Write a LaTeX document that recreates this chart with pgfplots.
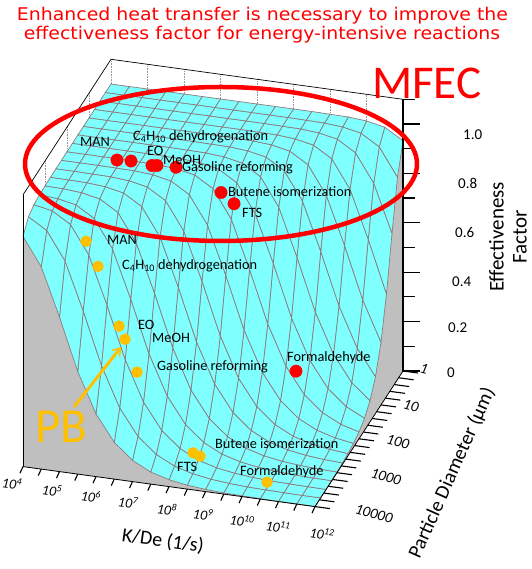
\documentclass[border=0pt]{standalone}
\usepackage{graphicx}
\usepackage{pgfplots}
\pgfplotsset{compat=1.18}
\usepackage{fontspec}
\setmainfont{Carlito}
\newfontfamily\titlefont{DejaVu Sans}
\usetikzlibrary{arrows.meta}
\definecolor{meshcol}{RGB}{140,122,126}
\definecolor{wallgray}{RGB}{191,191,191}
\definecolor{pborange}{RGB}{255,192,0}
\definecolor{mfecred}{RGB}{255,0,0}
\definecolor{dotgray}{RGB}{150,150,150}
\begin{document}
\begin{tikzpicture}[x=1pt,y=1pt]
\begin{axis}[
  at={(111pt,238pt)}, anchor=origin,
  x={(36.5pt,-5pt)}, y={(-22pt,-33.9pt)}, z={(0pt,247pt)},
  xmin=0, xmax=8, ymin=0, ymax=4, zmin=0, zmax=1.1,
  hide axis, clip=false,
  colormap={flatcyan}{rgb255=(128,255,255) rgb255=(128,255,255)},
]
% dotted grid lines on back and left walls
\draw[dotgray, densely dotted, line width=0.6pt] (axis cs:0,0,1) -- (axis cs:0,0,1.1);
\draw[dotgray, densely dotted, line width=0.6pt] (axis cs:1,0,1) -- (axis cs:1,0,1.1);
\draw[dotgray, densely dotted, line width=0.6pt] (axis cs:2,0,1) -- (axis cs:2,0,1.1);
\draw[dotgray, densely dotted, line width=0.6pt] (axis cs:3,0,1) -- (axis cs:3,0,1.1);
\draw[dotgray, densely dotted, line width=0.6pt] (axis cs:4,0,1) -- (axis cs:4,0,1.1);
\draw[dotgray, densely dotted, line width=0.6pt] (axis cs:5,0,1) -- (axis cs:5,0,1.1);
\draw[dotgray, densely dotted, line width=0.6pt] (axis cs:6,0,0.999) -- (axis cs:6,0,1.1);
\draw[dotgray, densely dotted, line width=0.6pt] (axis cs:7,0,0.992) -- (axis cs:7,0,1.1);
\draw[dotgray, densely dotted, line width=0.6pt] (axis cs:0,1,1) -- (axis cs:0,1,1.1);
\draw[dotgray, densely dotted, line width=0.6pt] (axis cs:0,2,1) -- (axis cs:0,2,1.1);
\draw[dotgray, densely dotted, line width=0.6pt] (axis cs:0,3,0.999) -- (axis cs:0,3,1.1);
% box edges
\draw[black, line width=0.7pt] (axis cs:0,4,1.1) -- (axis cs:0,0,1.1) -- (axis cs:8,0,1.1);
% gray walls (front: d = 10000 um, right: K/De = 1e12)
\addplot3[fill=wallgray, draw=none] coordinates {(0,4,0.932) (0.5,4,0.819) (1,4,0.626) (1.5,4,0.415) (2,4,0.254) (2.5,4,0.149) (3,4,0.086) (3.5,4,0.049) (4,4,0.028) (4.5,4,0.016) (5,4,0.009) (5.5,4,0.005) (6,4,0.003) (6.5,4,0.002) (7,4,0.001) (7.5,4,0.001) (8,4,0) (0,4,0)};
\addplot3[fill=wallgray, draw=none] coordinates {(8,0,0.932) (8,0.25,0.819) (8,0.5,0.626) (8,0.75,0.415) (8,1,0.254) (8,1.25,0.149) (8,1.5,0.086) (8,1.75,0.049) (8,2,0.028) (8,2.25,0.016) (8,2.5,0.009) (8,2.75,0.005) (8,3,0.003) (8,3.25,0.002) (8,3.5,0.001) (8,3.75,0.001) (8,4,0) (8,0,0)};
% surface: x = log10(K/De)-4, y = log10(d/um), z = effectiveness factor
\addplot3[surf, shader=faceted, faceted color=meshcol, line width=0.7pt, mesh/cols=17] table[row sep=\\] {
x y z\\
0 0 1\\0.5 0 1\\1 0 1\\1.5 0 1\\2 0 1\\2.5 0 1\\3 0 1\\3.5 0 1\\4 0 1\\4.5 0 1\\5 0 1\\5.5 0 1\\6 0 0.999\\6.5 0 0.998\\7 0 0.992\\7.5 0 0.977\\8 0 0.932\\
0 0.25 1\\0.5 0.25 1\\1 0.25 1\\1.5 0.25 1\\2 0.25 1\\2.5 0.25 1\\3 0.25 1\\3.5 0.25 1\\4 0.25 1\\4.5 0.25 1\\5 0.25 1\\5.5 0.25 0.999\\6 0.25 0.998\\6.5 0.25 0.992\\7 0.25 0.977\\7.5 0.25 0.932\\8 0.25 0.819\\
0 0.5 1\\0.5 0.5 1\\1 0.5 1\\1.5 0.5 1\\2 0.5 1\\2.5 0.5 1\\3 0.5 1\\3.5 0.5 1\\4 0.5 1\\4.5 0.5 1\\5 0.5 0.999\\5.5 0.5 0.998\\6 0.5 0.992\\6.5 0.5 0.977\\7 0.5 0.932\\7.5 0.5 0.819\\8 0.5 0.626\\
0 0.75 1\\0.5 0.75 1\\1 0.75 1\\1.5 0.75 1\\2 0.75 1\\2.5 0.75 1\\3 0.75 1\\3.5 0.75 1\\4 0.75 1\\4.5 0.75 0.999\\5 0.75 0.998\\5.5 0.75 0.992\\6 0.75 0.977\\6.5 0.75 0.932\\7 0.75 0.819\\7.5 0.75 0.626\\8 0.75 0.415\\
0 1 1\\0.5 1 1\\1 1 1\\1.5 1 1\\2 1 1\\2.5 1 1\\3 1 1\\3.5 1 1\\4 1 0.999\\4.5 1 0.998\\5 1 0.992\\5.5 1 0.977\\6 1 0.932\\6.5 1 0.819\\7 1 0.626\\7.5 1 0.415\\8 1 0.254\\
0 1.25 1\\0.5 1.25 1\\1 1.25 1\\1.5 1.25 1\\2 1.25 1\\2.5 1.25 1\\3 1.25 1\\3.5 1.25 0.999\\4 1.25 0.998\\4.5 1.25 0.992\\5 1.25 0.977\\5.5 1.25 0.932\\6 1.25 0.819\\6.5 1.25 0.626\\7 1.25 0.415\\7.5 1.25 0.254\\8 1.25 0.149\\
0 1.5 1\\0.5 1.5 1\\1 1.5 1\\1.5 1.5 1\\2 1.5 1\\2.5 1.5 1\\3 1.5 0.999\\3.5 1.5 0.998\\4 1.5 0.992\\4.5 1.5 0.977\\5 1.5 0.932\\5.5 1.5 0.819\\6 1.5 0.626\\6.5 1.5 0.415\\7 1.5 0.254\\7.5 1.5 0.149\\8 1.5 0.086\\
0 1.75 1\\0.5 1.75 1\\1 1.75 1\\1.5 1.75 1\\2 1.75 1\\2.5 1.75 0.999\\3 1.75 0.998\\3.5 1.75 0.992\\4 1.75 0.977\\4.5 1.75 0.932\\5 1.75 0.819\\5.5 1.75 0.626\\6 1.75 0.415\\6.5 1.75 0.254\\7 1.75 0.149\\7.5 1.75 0.086\\8 1.75 0.049\\
0 2 1\\0.5 2 1\\1 2 1\\1.5 2 1\\2 2 0.999\\2.5 2 0.998\\3 2 0.992\\3.5 2 0.977\\4 2 0.932\\4.5 2 0.819\\5 2 0.626\\5.5 2 0.415\\6 2 0.254\\6.5 2 0.149\\7 2 0.086\\7.5 2 0.049\\8 2 0.028\\
0 2.25 1\\0.5 2.25 1\\1 2.25 1\\1.5 2.25 0.999\\2 2.25 0.998\\2.5 2.25 0.992\\3 2.25 0.977\\3.5 2.25 0.932\\4 2.25 0.819\\4.5 2.25 0.626\\5 2.25 0.415\\5.5 2.25 0.254\\6 2.25 0.149\\6.5 2.25 0.086\\7 2.25 0.049\\7.5 2.25 0.028\\8 2.25 0.016\\
0 2.5 1\\0.5 2.5 1\\1 2.5 0.999\\1.5 2.5 0.998\\2 2.5 0.992\\2.5 2.5 0.977\\3 2.5 0.932\\3.5 2.5 0.819\\4 2.5 0.626\\4.5 2.5 0.415\\5 2.5 0.254\\5.5 2.5 0.149\\6 2.5 0.086\\6.5 2.5 0.049\\7 2.5 0.028\\7.5 2.5 0.016\\8 2.5 0.009\\
0 2.75 1\\0.5 2.75 0.999\\1 2.75 0.998\\1.5 2.75 0.992\\2 2.75 0.977\\2.5 2.75 0.932\\3 2.75 0.819\\3.5 2.75 0.626\\4 2.75 0.415\\4.5 2.75 0.254\\5 2.75 0.149\\5.5 2.75 0.086\\6 2.75 0.049\\6.5 2.75 0.028\\7 2.75 0.016\\7.5 2.75 0.009\\8 2.75 0.005\\
0 3 0.999\\0.5 3 0.998\\1 3 0.992\\1.5 3 0.977\\2 3 0.932\\2.5 3 0.819\\3 3 0.626\\3.5 3 0.415\\4 3 0.254\\4.5 3 0.149\\5 3 0.086\\5.5 3 0.049\\6 3 0.028\\6.5 3 0.016\\7 3 0.009\\7.5 3 0.005\\8 3 0.003\\
0 3.25 0.998\\0.5 3.25 0.992\\1 3.25 0.977\\1.5 3.25 0.932\\2 3.25 0.819\\2.5 3.25 0.626\\3 3.25 0.415\\3.5 3.25 0.254\\4 3.25 0.149\\4.5 3.25 0.086\\5 3.25 0.049\\5.5 3.25 0.028\\6 3.25 0.016\\6.5 3.25 0.009\\7 3.25 0.005\\7.5 3.25 0.003\\8 3.25 0.002\\
0 3.5 0.992\\0.5 3.5 0.977\\1 3.5 0.932\\1.5 3.5 0.819\\2 3.5 0.626\\2.5 3.5 0.415\\3 3.5 0.254\\3.5 3.5 0.149\\4 3.5 0.086\\4.5 3.5 0.049\\5 3.5 0.028\\5.5 3.5 0.016\\6 3.5 0.009\\6.5 3.5 0.005\\7 3.5 0.003\\7.5 3.5 0.002\\8 3.5 0.001\\
0 3.75 0.977\\0.5 3.75 0.932\\1 3.75 0.819\\1.5 3.75 0.626\\2 3.75 0.415\\2.5 3.75 0.254\\3 3.75 0.149\\3.5 3.75 0.086\\4 3.75 0.049\\4.5 3.75 0.028\\5 3.75 0.016\\5.5 3.75 0.009\\6 3.75 0.005\\6.5 3.75 0.003\\7 3.75 0.002\\7.5 3.75 0.001\\8 3.75 0.001\\
0 4 0.932\\0.5 4 0.819\\1 4 0.626\\1.5 4 0.415\\2 4 0.254\\2.5 4 0.149\\3 4 0.086\\3.5 4 0.049\\4 4 0.028\\4.5 4 0.016\\5 4 0.009\\5.5 4 0.005\\6 4 0.003\\6.5 4 0.002\\7 4 0.001\\7.5 4 0.001\\8 4 0\\
};
% axis lines
\draw[black, line width=0.7pt] (axis cs:0,4,0) -- (axis cs:0,4,1.1);
\draw[black, line width=0.8pt] (axis cs:0,4,0) -- (axis cs:8,4,0) -- (axis cs:8,0,0);
\draw[black, line width=1.3pt] (axis cs:8,0,0) -- (axis cs:8,0,1.1);
% z ticks
\draw[black, line width=1.2pt] (axis cs:8,0,0) -- ++(17pt,0pt);
\draw[black, line width=1.2pt] (axis cs:8,0,0.1) -- ++(12pt,0pt);
\draw[black, line width=1.2pt] (axis cs:8,0,0.2) -- ++(17pt,0pt);
\draw[black, line width=1.2pt] (axis cs:8,0,0.3) -- ++(12pt,0pt);
\draw[black, line width=1.2pt] (axis cs:8,0,0.4) -- ++(17pt,0pt);
\draw[black, line width=1.2pt] (axis cs:8,0,0.5) -- ++(12pt,0pt);
\draw[black, line width=1.2pt] (axis cs:8,0,0.6) -- ++(17pt,0pt);
\draw[black, line width=1.2pt] (axis cs:8,0,0.7) -- ++(12pt,0pt);
\draw[black, line width=1.2pt] (axis cs:8,0,0.8) -- ++(17pt,0pt);
\draw[black, line width=1.2pt] (axis cs:8,0,0.9) -- ++(12pt,0pt);
\draw[black, line width=1.2pt] (axis cs:8,0,1.0) -- ++(17pt,0pt);
\draw[black, line width=1.2pt] (axis cs:8,0,1.1) -- ++(12pt,0pt);
% y ticks (particle diameter)
\draw[black, line width=1.1pt] (axis cs:8,0,0) -- ++(15pt,-2pt);
\draw[black, line width=1.1pt] (axis cs:8,0.2,0) -- ++(15pt,-2pt);
\draw[black, line width=1.1pt] (axis cs:8,0.4,0) -- ++(15pt,-2pt);
\draw[black, line width=1.1pt] (axis cs:8,0.6,0) -- ++(15pt,-2pt);
\draw[black, line width=1.1pt] (axis cs:8,0.8,0) -- ++(15pt,-2pt);
\draw[black, line width=1.1pt] (axis cs:8,1.0,0) -- ++(15pt,-2pt);
\draw[black, line width=1.1pt] (axis cs:8,1.2,0) -- ++(15pt,-2pt);
\draw[black, line width=1.1pt] (axis cs:8,1.4,0) -- ++(15pt,-2pt);
\draw[black, line width=1.1pt] (axis cs:8,1.6,0) -- ++(15pt,-2pt);
\draw[black, line width=1.1pt] (axis cs:8,1.8,0) -- ++(15pt,-2pt);
\draw[black, line width=1.1pt] (axis cs:8,2.0,0) -- ++(15pt,-2pt);
\draw[black, line width=1.1pt] (axis cs:8,2.2,0) -- ++(15pt,-2pt);
\draw[black, line width=1.1pt] (axis cs:8,2.4,0) -- ++(15pt,-2pt);
\draw[black, line width=1.1pt] (axis cs:8,2.6,0) -- ++(15pt,-2pt);
\draw[black, line width=1.1pt] (axis cs:8,2.8,0) -- ++(15pt,-2pt);
\draw[black, line width=1.1pt] (axis cs:8,3.0,0) -- ++(15pt,-2pt);
\draw[black, line width=1.1pt] (axis cs:8,3.2,0) -- ++(15pt,-2pt);
\draw[black, line width=1.1pt] (axis cs:8,3.4,0) -- ++(15pt,-2pt);
\draw[black, line width=1.1pt] (axis cs:8,3.6,0) -- ++(15pt,-2pt);
\draw[black, line width=1.1pt] (axis cs:8,3.8,0) -- ++(15pt,-2pt);
\draw[black, line width=1.1pt] (axis cs:8,4.0,0) -- ++(15pt,-2pt);
% x ticks (K/De)
\draw[black, line width=1.1pt] (axis cs:0,4,0) -- ++(-3pt,-6.5pt);
\draw[black, line width=1.1pt] (axis cs:0.5,4,0) -- ++(-3pt,-6.5pt);
\draw[black, line width=1.1pt] (axis cs:1,4,0) -- ++(-3pt,-6.5pt);
\draw[black, line width=1.1pt] (axis cs:1.5,4,0) -- ++(-3pt,-6.5pt);
\draw[black, line width=1.1pt] (axis cs:2,4,0) -- ++(-3pt,-6.5pt);
\draw[black, line width=1.1pt] (axis cs:2.5,4,0) -- ++(-3pt,-6.5pt);
\draw[black, line width=1.1pt] (axis cs:3,4,0) -- ++(-3pt,-6.5pt);
\draw[black, line width=1.1pt] (axis cs:3.5,4,0) -- ++(-3pt,-6.5pt);
\draw[black, line width=1.1pt] (axis cs:4,4,0) -- ++(-3pt,-6.5pt);
\draw[black, line width=1.1pt] (axis cs:4.5,4,0) -- ++(-3pt,-6.5pt);
\draw[black, line width=1.1pt] (axis cs:5,4,0) -- ++(-3pt,-6.5pt);
\draw[black, line width=1.1pt] (axis cs:5.5,4,0) -- ++(-3pt,-6.5pt);
\draw[black, line width=1.1pt] (axis cs:6,4,0) -- ++(-3pt,-6.5pt);
\draw[black, line width=1.1pt] (axis cs:6.5,4,0) -- ++(-3pt,-6.5pt);
\draw[black, line width=1.1pt] (axis cs:7,4,0) -- ++(-3pt,-6.5pt);
\draw[black, line width=1.1pt] (axis cs:7.5,4,0) -- ++(-3pt,-6.5pt);
\draw[black, line width=1.1pt] (axis cs:8,4,0) -- ++(-3pt,-6.5pt);
% MFEC (red) and PB (orange) reactions
\addplot3[only marks, mark=*, mark size=6.2pt, color=mfecred] coordinates {
(1.392,2.037,1.0) (1.761,2.012,1.0) (2.354,2.042,0.998) (2.480,2.024,0.998)
(2.967,1.967,0.993) (4.186,1.943,0.912) (4.515,1.898,0.867) (6.238,1.940,0.230)};
\addplot3[only marks, mark=*, mark size=5.5pt, color=pborange] coordinates {
(1.395,3.45,0.865) (1.724,3.45,0.77) (2.30,3.45,0.54) (2.455,3.435,0.488)
(2.786,3.44,0.362) (4.327,3.45,0.068) (4.509,3.435,0.056) (6.415,3.55,0.005)};
\end{axis}
% ---------- annotations in picture coordinates ----------
\begin{scope}[every node/.style={inner sep=0pt}]
\node[anchor=base, text=mfecred] at (262.5,548) {\scalebox{1.08}[1]{\titlefont\fontsize{17.5}{20}\selectfont Enhanced heat transfer is necessary to improve the}};
\node[anchor=base, text=mfecred] at (262,529) {\scalebox{1.08}[1]{\titlefont\fontsize{17.5}{20}\selectfont effectiveness factor for energy-intensive reactions}};
\draw[mfecred, line width=4.5pt] (221,405) ellipse [x radius=196, y radius=77];
\node[anchor=base west, text=mfecred, font=\fontsize{47}{50}\selectfont] at (372,470.5) {MFEC};
\node[anchor=base west, text=pborange, font=\fontsize{49}{52}\selectfont] at (35,126) {PB};
\draw[pborange, line width=3pt, -{Straight Barb[length=7pt,width=10pt,line width=1.5pt]}] (74,162) -- (121,222);
% point labels
\begin{scope}[every node/.style={inner sep=0pt, anchor=west, font=\fontsize{14.3}{16}\selectfont}]
\node at (80,427) {MAN};
\node at (133,432) {C\textsubscript{4}H\textsubscript{10} dehydrogenation};
\node at (147,418) {EO};
\node at (163,409) {MeOH};
\node at (182,401) {Gasoline reforming};
\node at (228,377) {Butene isomerization};
\node at (242,356) {FTS};
\node at (287,211) {Formaldehyde};
\node at (107,329) {MAN};
\node at (122,303) {C\textsubscript{4}H\textsubscript{10} dehydrogenation};
\node at (138,244) {EO};
\node at (152,231) {MeOH};
\node at (157,202) {Gasoline reforming};
\node at (215,125) {Butene isomerization};
\node at (177,102) {FTS};
\node at (240,97) {Formaldehyde};
\end{scope}
% z tick labels
\begin{scope}[every node/.style={inner sep=0pt, anchor=west, font=\fontsize{15}{17}\selectfont}]
\node at (463,434) {1.0};
\node at (458,386) {0.8};
\node at (455,336) {0.6};
\node at (452,287) {0.4};
\node at (448,241) {0.2};
\node at (447,196) {0};
\end{scope}
% y tick labels
\begin{scope}[every node/.style={inner sep=0pt, rotate=-15, font=\itshape\fontsize{15}{17}\selectfont}]
\node at (424,200) {1};
\node at (411,163) {10};
\node at (398,127) {100};
\node at (386,92) {1000};
\node at (374,55) {10000};
\end{scope}
% x tick labels
\begin{scope}[every node/.style={inner sep=0pt, rotate=-8, font=\itshape\fontsize{14}{16}\selectfont}]
\node at (12,86) {10\textsuperscript{4}};
\node at (52,79) {10\textsuperscript{5}};
\node at (91,73) {10\textsuperscript{6}};
\node at (128,67) {10\textsuperscript{7}};
\node at (167,60) {10\textsuperscript{8}};
\node at (203,55) {10\textsuperscript{9}};
\node at (242,48) {10\textsuperscript{10}};
\node at (278,42) {10\textsuperscript{11}};
\node at (322,35) {10\textsuperscript{12}};
\end{scope}
% axis titles
\node[rotate=-8, font=\fontsize{20}{22}\selectfont] at (163,28) {K/De (1/s)};
\node[rotate=66, font=\fontsize{20}{22}\selectfont] at (452,96) {Particle Diameter (µm)};
\node[rotate=90, align=center, font=\fontsize{21}{23}\selectfont] at (508,332) {Effectiveness\\Factor};
\end{scope}
\pgfresetboundingbox
\path[use as bounding box] (0,0) rectangle (531,569);
\end{tikzpicture}
\end{document}
